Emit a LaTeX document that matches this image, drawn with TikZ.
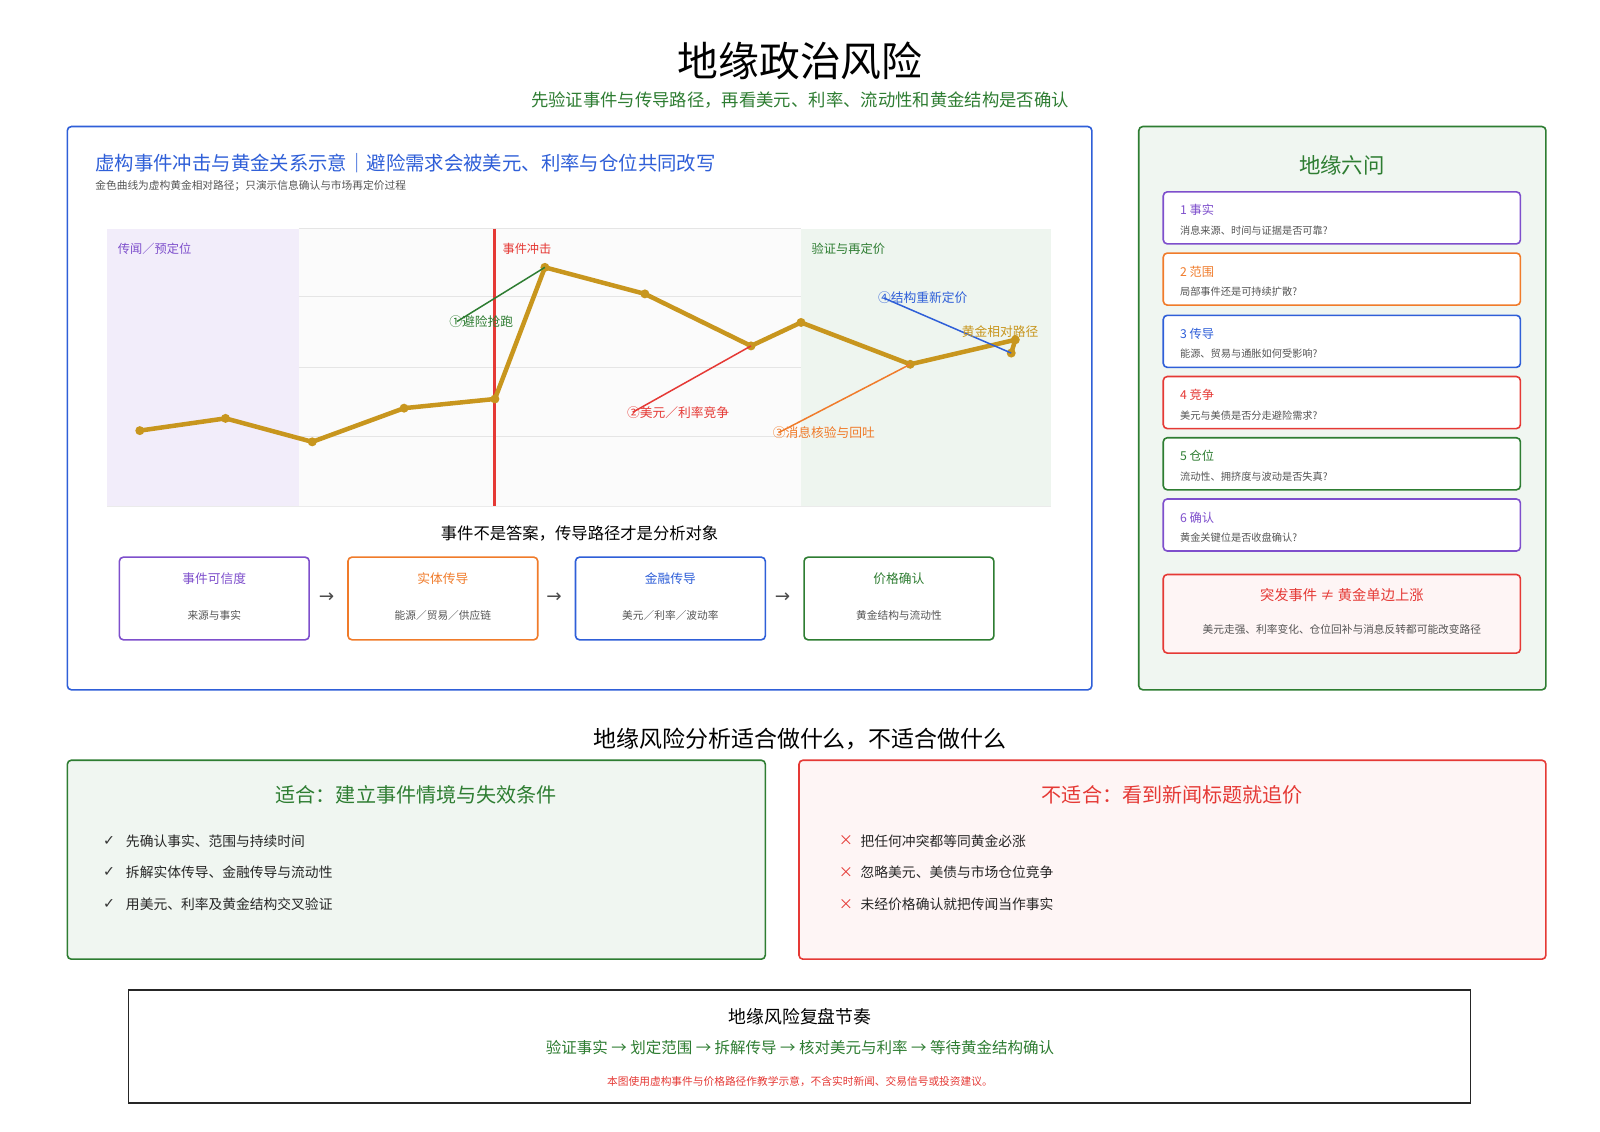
\documentclass[tikz,border=0pt]{standalone}
\usepackage{fontspec}
\setmainfont{Noto Sans CJK SC}
\newfontfamily\djv{DejaVu Sans}
\definecolor{cblue}{HTML}{2F5FD8}
\definecolor{cgreen}{HTML}{2E7D32}
\definecolor{cred}{HTML}{E53935}
\definecolor{corange}{HTML}{F07B2A}
\definecolor{cpurple}{HTML}{7E4FCC}
\definecolor{cgold}{HTML}{C8961E}
\definecolor{cgray}{HTML}{555555}
\begin{document}
\begin{tikzpicture}[x=1.0204pt,y=-1.0204pt,
  fs/.style={font=\fontsize{\the\dimexpr #1pt*102/100\relax}{\the\dimexpr #1pt*102/100\relax}\selectfont},
  rb/.style={draw=#1,rounded corners=4pt,line width=1.6pt},
  qt/.style={anchor=west,fs=12},
  qs/.style={anchor=west,fs=10,text=cgray},
  dot/.style={circle,fill=cgold,inner sep=0pt,minimum size=9pt},
  it/.style={anchor=west,fs=13.5,text=black!85}]
\fill[white] (0,0) rectangle (1568,1108.4);
\node[fs=40] (title) at (784,60) {地缘政治风险};
\node[fs=17,text=cgreen] (sub) at (784,98) {先验证事件与传导路径，再看美元、利率、流动性和黄金结构是否确认};
% left panel
\draw[rb=cblue,fill=white] (66,124) rectangle (1070,676);
\node[anchor=west,fs=19,text=cblue] (ct) at (90,160) {虚构事件冲击与黄金关系示意｜避险需求会被美元、利率与仓位共同改写};
\node[anchor=west,fs=10.5,text=cgray] (cs) at (90,182) {金色曲线为虚构黄金相对路径；只演示信息确认与市场再定价过程};
% chart
\fill[black!1.5] (105,224) rectangle (1030,496);
\fill[cpurple!10] (105,224) rectangle (293,496);
\fill[cgreen!8] (785,224) rectangle (1030,496);
\foreach \y in {224,291,360,428,496} \draw[black!10,line width=1pt] (293,\y) -- (785,\y);
\draw[black!8] (105,496) -- (1030,496);
\draw[cred,line width=3pt] (485,224) -- (485,496);
\node[anchor=west,fs=12,text=cpurple] (l1) at (112,244) {传闻／预定位};
\node[anchor=west,fs=12,text=cred] (l2) at (489,244) {事件冲击};
\node[anchor=west,fs=12,text=cgreen] (l3) at (792,244) {验证与再定价};
\foreach \n/\p in {p1/{137,422},p2/{221,410},p3/{306,433},p4/{396,400},p5/{485,391},p6/{534,262},p7/{632,288},p8/{736,339},p9/{785,316},p10/{892,357},p11/{995,333},p12/{991,346}}
  \coordinate (\n) at (\p);
\draw[cgold,line width=4.5pt,line join=round] (p1)--(p2)--(p3)--(p4)--(p5)--(p6)--(p7)--(p8)--(p9)--(p10)--(p11)--(p12);
\foreach \n in {p1,p2,p3,p4,p5,p6,p7,p8,p9,p10,p11,p12} \node[dot] at (\n) {};
\coordinate (a1) at (448,315); \coordinate (a2) at (620,404);
\coordinate (a3) at (763,424); \coordinate (a4) at (866,292);
\draw[cgreen,line width=1.5pt] (a1) -- (p6);
\draw[cred,line width=1.5pt] (a2) -- (p8);
\draw[corange,line width=1.5pt] (a3) -- (p10);
\draw[cblue,line width=1.5pt] (a4) -- (p12);
\node[anchor=west,fs=12.5,text=cgreen] at (437,315) {①避险抢跑};
\node[anchor=west,fs=12.5,text=cred] at (611,404) {②美元／利率竞争};
\node[anchor=west,fs=12.5,text=corange] at (754,424) {③消息核验与回吐};
\node[anchor=west,fs=12.5,text=cblue] at (857,292) {④结构重新定价};
\node[fs=12.5,text=cgold] at (980,325) {黄金相对路径};
% flow
\node[fs=16] (ft) at (568,523) {事件不是答案，传导路径才是分析对象};
\foreach \n/\x/\c/\a/\b in {f1/117/cpurple/事件可信度/来源与事实,f2/341/corange/实体传导/能源／贸易／供应链,f3/564/cblue/金融传导/美元／利率／波动率,f4/788/cgreen/价格确认/黄金结构与流动性}{
  \draw[rb=\c] (\x,546) rectangle ++(186,81);
  \node[fs=12.5,text=\c] (\n) at (\x+93,567) {\a};
  \node[fs=10.5,text=cgray] at (\x+93,603) {\b};
}
\foreach \x in {320,543,767} \node[fs=18,text=black!70] at (\x,586) {\djv →};
% right panel
\draw[rb=cgreen,fill=cgreen!7] (1116,124) rectangle (1515,676);
\node[fs=21,text=cgreen] (rt) at (1315,162) {地缘六问};
\foreach \y/\c/\a/\b in {188/cpurple/1 事实/消息来源、时间与证据是否可靠?,248/corange/2 范围/局部事件还是可持续扩散?,309/cblue/3 传导/能源、贸易与通胀如何受影响?,369/cred/4 竞争/美元与美债是否分走避险需求?,429/cgreen/5 仓位/流动性、拥挤度与波动是否失真?,489/cpurple/6 确认/黄金关键位是否收盘确认?}{
  \draw[rb=\c,fill=white] (1140,\y) rectangle (1490,\y+51);
  \node[qt,text=\c] at (1153,\y+18) {\a};
  \node[qs] at (1153,\y+38) {\b};
}
\draw[rb=cred,fill=cred!5] (1140,563) rectangle (1490,640);
\node[fs=14,text=cred] (rw) at (1315,583) {突发事件 ≠ 黄金单边上涨};
\node[fs=10.5,text=cgray] at (1315,617) {美元走强、利率变化、仓位回补与消息反转都可能改变路径};
% bottom sections
\node[fs=22.5] (mid) at (784,724) {地缘风险分析适合做什么，不适合做什么};
\draw[rb=cgreen,fill=cgreen!7] (66,745) rectangle (750,940);
\node[fs=19.7,text=cgreen] (gt) at (408,779) {适合：建立事件情境与失效条件};
\draw[rb=cred,fill=cred!5] (783,745) rectangle (1515,940);
\node[fs=19.7,text=cred] (rt2) at (1149,779) {不适合：看到新闻标题就追价};
\foreach \y/\t in {824/先确认事实、范围与持续时间,855/拆解实体传导、金融传导与流动性,886/用美元、利率及黄金结构交叉验证}{
  \node[fs=14,text=black!80] at (107,\y) {\djv ✓};
  \node[it] at (120,\y) {\t};
}
\foreach \y/\t in {824/把任何冲突都等同黄金必涨,855/忽略美元、美债与市场仓位竞争,886/未经价格确认就把传闻当作事实}{
  \node[fs=14,text=cred] at (829,\y) {×};
  \node[it] at (840,\y) {\t};
}
\draw[black!85,line width=1.8pt,fill=white] (126,970) rectangle (1441,1081);
\node[fs=17.5] (bt) at (784,996) {地缘风险复盘节奏};
\node[fs=15.2,text=cgreen] (bs) at (784,1027) {验证事实 → 划定范围 → 拆解传导 → 核对美元与利率 → 等待黄金结构确认};
\node[fs=10.5,text=cred] (bn) at (784,1060) {本图使用虚构事件与价格路径作教学示意，不含实时新闻、交易信号或投资建议。};
\pgfresetboundingbox
\path[use as bounding box] (0,0) rectangle (1568,1108.4);
\end{tikzpicture}
\end{document}
